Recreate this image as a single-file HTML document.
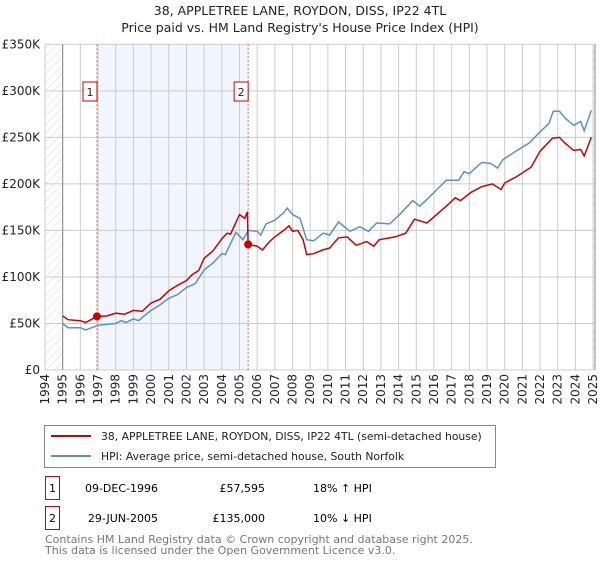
<!DOCTYPE html>
<html><head><meta charset="utf-8"><style>
body{margin:0;background:#fff;font-family:"Liberation Sans","DejaVu Sans",sans-serif;}
svg text{font-family:"DejaVu Sans","Liberation Sans",sans-serif;}
</style></head><body>
<svg id="c" width="600" height="560" xmlns="http://www.w3.org/2000/svg">
<defs><pattern id="hatch" width="6" height="6" patternUnits="userSpaceOnUse" patternTransform="rotate(45)"><line x1="0" y1="0" x2="0" y2="6" stroke="#d8d8d8" stroke-width="1"/></pattern></defs>
<text x="300" y="15" text-anchor="middle" font-size="12.5" fill="#222">38, APPLETREE LANE, ROYDON, DISS, IP22 4TL</text>
<text x="300" y="32" text-anchor="middle" font-size="12.5" fill="#222">Price paid vs. HM Land Registry's House Price Index (HPI)</text>
<g id="plot"></g>
<rect x="44.5" y="425.5" width="451" height="42" fill="#fff" stroke="#888"/>
<line x1="51" y1="436" x2="91" y2="436" stroke="#cc0000" stroke-width="2"/>
<text x="101" y="440" font-size="10.8" fill="#222">38, APPLETREE LANE, ROYDON, DISS, IP22 4TL (semi-detached house)</text>
<line x1="51" y1="456" x2="91" y2="456" stroke="#5b8fd0" stroke-width="2"/>
<text x="101" y="460" font-size="10.8" fill="#222">HPI: Average price, semi-detached house, South Norfolk</text>
<rect x="45.5" y="476.5" width="14" height="23" fill="#fff" stroke="#cc0000"/>
<text x="52.5" y="492" text-anchor="middle" font-size="11">1</text>
<text x="158" y="492" text-anchor="end" font-size="11">09-DEC-1996</text>
<text x="265" y="492" text-anchor="end" font-size="11">£57,595</text>
<text x="313" y="492" font-size="11">18% ↑ HPI</text>
<rect x="45.5" y="506.5" width="14" height="23" fill="#fff" stroke="#cc0000"/>
<text x="52.5" y="522" text-anchor="middle" font-size="11">2</text>
<text x="158" y="522" text-anchor="end" font-size="11">29-JUN-2005</text>
<text x="265" y="522" text-anchor="end" font-size="11">£135,000</text>
<text x="313" y="522" font-size="11">10% ↓ HPI</text>
<text x="45" y="543" font-size="11" fill="#777">Contains HM Land Registry data © Crown copyright and database right 2025.</text>
<text x="45" y="554" font-size="11" fill="#777">This data is licensed under the Open Government Licence v3.0.</text>
</svg>
<script>
const yTicks=[0,50,100,150,200,250,300,350];
const yLabels=["£0","£50K","£100K","£150K","£200K","£250K","£300K","£350K"];
const xYears=[1994,1995,1996,1997,1998,1999,2000,2001,2002,2003,2004,2005,2006,2007,2008,2009,2010,2011,2012,2013,2014,2015,2016,2017,2018,2019,2020,2021,2022,2023,2024,2025];
const saleDates=[1996.94,2005.49];
const salePrices=[57.595,135];
const saleLabels=["1","2"];
const redT=[1995.0,1995.3,1996.0,1996.3,1996.94,1997.5,1998.0,1998.5,1999.0,1999.5,2000.0,2000.5,2001.0,2001.5,2002.0,2002.3,2002.7,2003.0,2003.5,2004.0,2004.3,2004.5,2005.0,2005.3,2005.45,2005.49,2006.0,2006.3,2006.7,2007.0,2007.5,2007.8,2008.0,2008.3,2008.6,2008.8,2009.2,2009.7,2010.1,2010.6,2011.1,2011.6,2012.2,2012.6,2012.9,2013.8,2014.4,2014.9,2015.6,2016.7,2017.2,2017.5,2018.1,2018.7,2019.3,2019.8,2020.0,2020.7,2021.5,2022.0,2022.7,2023.1,2023.4,2023.9,2024.3,2024.5,2024.9];
const redV=[58,54,53,51,57.6,58,61,60,64,63,72,76,85,91,96,102,107,120,128,141,147,146,167,163,170,135,133,129,138,143,150,155,149,150,140,124,125,129,131,142,143,134,138,133,140,143,147,162,158,176,185,182,191,197,200,194,201,208,218,235,249,250,244,236,237,230,250];
const blueT=[1995.0,1995.3,1996.0,1996.3,1997.0,1998.0,1998.3,1998.6,1999.0,1999.3,1999.6,2000.0,2000.5,2001.0,2001.5,2002.0,2002.5,2003.0,2003.5,2004.0,2004.2,2004.5,2004.8,2005.2,2005.5,2006.0,2006.2,2006.5,2007.0,2007.5,2007.7,2008.0,2008.42,2008.8,2009.2,2009.74,2010.1,2010.6,2011.25,2011.8,2012.3,2012.76,2013.5,2014.1,2014.8,2015.2,2015.96,2016.7,2017.4,2017.7,2018.0,2018.7,2019.2,2019.6,2019.9,2020.7,2021.4,2021.9,2022.5,2022.75,2023.1,2023.4,2023.9,2024.3,2024.5,2024.9];
const blueV=[50,45.5,45.5,43,48,50,53,51,55,53,58,64,70,77,81,88.5,93,107.5,115,125,124,136,148,140,150,149,145,157,161,169,174,167,163,140,139,147,145,159,149,154,149,158,157,168,182,176,190,204,204,213,211,223,222,217,226,236,244,254,265,278,278,271,263,267,257,279];
const L=45,R=595,T=44.3,B=370;
function X(y){return 45+(y-1994)*17.68;}
function Y(v){return B-(v/350)*(B-T);}
const ns="http://www.w3.org/2000/svg";
const g=document.getElementById('plot');
function mk(tag,attrs,parent){const e=document.createElementNS(ns,tag);for(const k in attrs)e.setAttribute(k,attrs[k]);(parent||g).appendChild(e);return e;}
let r=mk('rect',{x:X(saleDates[0]),y:T,width:X(saleDates[1])-X(saleDates[0]),height:B-T,fill:'#eef4fd',opacity:0.8});


r=mk('rect',{x:L,y:T,width:X(1995)-L,height:B-T,fill:'url(#hatch)'});


r=mk('rect',{x:X(2024.95),y:T,width:R-X(2024.95),height:B-T,fill:'url(#hatch)'});


yTicks.forEach((v,i)=>{
 const l=mk('line',{x1:L,x2:R,y1:Y(v),y2:Y(v),stroke:'#ccc'});
 
 
 const t=mk('text',{x:40,y:Y(v)+4,'text-anchor':'end','font-size':12,fill:'#222'});
 t.textContent=yLabels[i];
 
 
});
xYears.forEach(yr=>{
 const l=mk('line',{x1:X(yr),x2:X(yr),y1:T,y2:B,stroke:'#ccc'});
 
 
 const t=mk('text',{x:0,y:0,'text-anchor':'end','font-size':12,fill:'#222',transform:`translate(${X(yr)+4},374) rotate(-90)`});
 t.textContent=yr;
 
 
});
let ax=mk('line',{x1:X(1995),x2:X(1995),y1:T,y2:B,stroke:'#888'});


ax=mk('line',{x1:R,x2:R,y1:T,y2:B,stroke:'#888'});


saleDates.forEach((d,i)=>{
 const l=mk('line',{x1:X(d),x2:X(d),y1:T,y2:B,stroke:'#e06060','stroke-dasharray':'2,2'});
 
 
 const b=mk('rect',{x:X(d)-14,y:82,width:14,height:19,fill:'#fff',stroke:'#cc0000'});
 
 
 const t=mk('text',{x:X(d)-7,y:96,'text-anchor':'middle','font-size':11,fill:'#222'});
 t.textContent=saleLabels[i];
 
 
});
const pts=(ts,vs)=>ts.map((t,i)=>X(t).toFixed(1)+','+Y(vs[i]).toFixed(1)).join(' ');
const hp=mk('polyline',{points:pts(blueT,blueV),fill:'none',stroke:'#5b8fd0','stroke-width':1.5});


const rp=mk('polyline',{points:pts(redT,redV),fill:'none',stroke:'#cc0000','stroke-width':1.5});


saleDates.forEach((d,i)=>{
 const p=mk('circle',{cx:X(d),cy:Y(salePrices[i]),r:4,fill:'#cc0000'});
 
 
});
</script>
</body></html>
